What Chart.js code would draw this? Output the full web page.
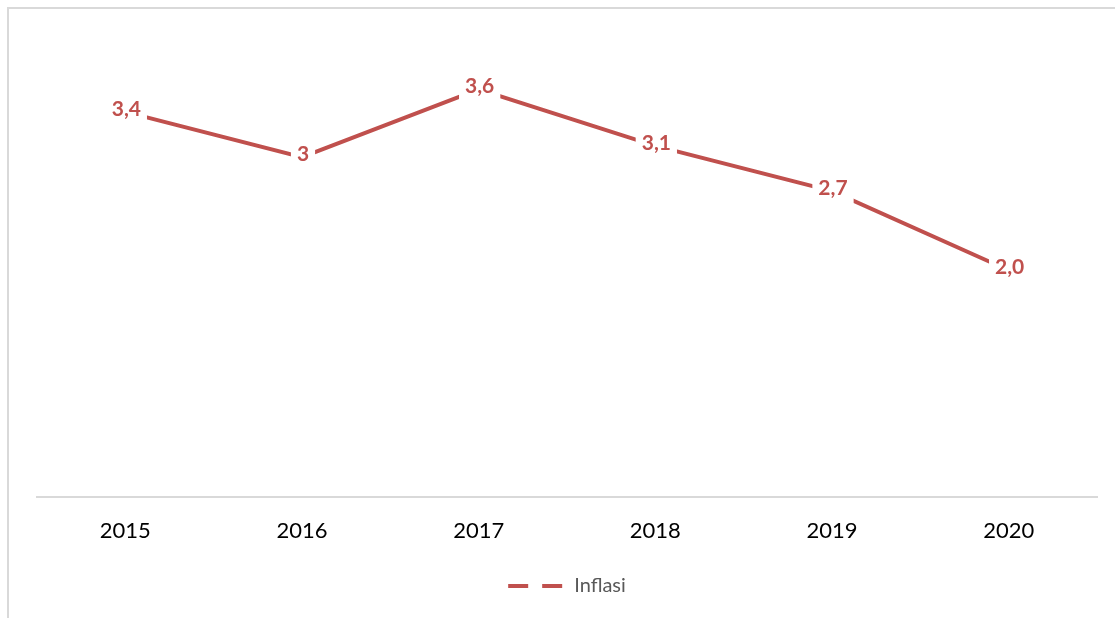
<!DOCTYPE html>
<html>
<head>
<meta charset="utf-8">
<script src="https://cdn.jsdelivr.net/npm/chart.js@4.4.0/dist/chart.umd.min.js"></script>
<style>
  html, body { margin: 0; padding: 0; background: #fff; overflow: hidden; }
  #frame { position: absolute; left: 7px; top: 7px; width: 1200px; height: 640px; border: 2px solid #D9D9D9; box-sizing: border-box; }
  #wrap { position: absolute; left: 0; top: 0; width: 1115px; height: 618px; }
</style>
</head>
<body>
<div id="frame"></div>
<div id="wrap"><canvas id="chart"></canvas></div>
<script>
// data
const years = ['2015', '2016', '2017', '2018', '2019', '2020'];
const inflasi = [3.4, 3.0, 3.6, 3.1, 2.7, 2.0];
const inflasiLabels = ['3,4', '3', '3,6', '3,1', '2,7', '2,0'];

const RED = '#C0504D';

// label nilai di atas titik, dengan latar putih supaya garis terpotong
const valueLabels = {
    id: 'valueLabels',
    afterDatasetsDraw(chart) {
        const ctx = chart.ctx;
        const meta = chart.getDatasetMeta(0);
        ctx.save();
        ctx.font = 'bold 21px Lato';
        ctx.textAlign = 'center';
        ctx.textBaseline = 'middle';
        meta.data.forEach((pt, i) => {
            const txt = inflasiLabels[i];
            const w = ctx.measureText(txt).width;
            const x = pt.x + 1, y = pt.y - 3;
            ctx.fillStyle = '#fff';
            ctx.fillRect(x - w / 2 - 6, y - 15, w + 12, 30);
            ctx.fillStyle = RED;
            ctx.fillText(txt, x, y);
        });
        ctx.restore();
    }
};

new Chart(document.getElementById('chart'), {
    type: 'line',
    data: {
        labels: years,
        datasets: [{
            label: 'Inflasi',
            data: inflasi,
            borderColor: RED,
            backgroundColor: RED,
            borderWidth: 4,
            pointRadius: 0,
            tension: 0
        }]
    },
    options: {
        responsive: true,
        maintainAspectRatio: false,
        animation: false,
        layout: { padding: { left: 37, right: 18, top: 44, bottom: 12 } },
        scales: {
            x: {
                offset: true,
                grid: { display: false },
                border: { color: '#D9D9D9', width: 2 },
                ticks: { color: '#000', font: { family: 'Lato', size: 22 }, padding: 13 },
                afterFit(scale) { scale.height += 9; }
            },
            y: {
                display: false,
                min: 0,
                max: 4
            }
        },
        plugins: {
            tooltip: { enabled: false },
            legend: {
                position: 'bottom',
                labels: {
                    color: '#595959',
                    font: { family: 'Lato', size: 20 },
                    usePointStyle: true,
                    pointStyle: 'line',
                    pointStyleWidth: 56,
                    padding: 10,
                    generateLabels(chart) {
                        const items = Chart.defaults.plugins.legend.labels.generateLabels(chart);
                        items.forEach(it => {
                            it.lineDash = [20, 14];
                            it.lineWidth = 4;
                            it.pointStyle = 'line';
                        });
                        return items;
                    }
                }
            }
        }
    },
    plugins: [valueLabels]
});
</script>
</body>
</html>
